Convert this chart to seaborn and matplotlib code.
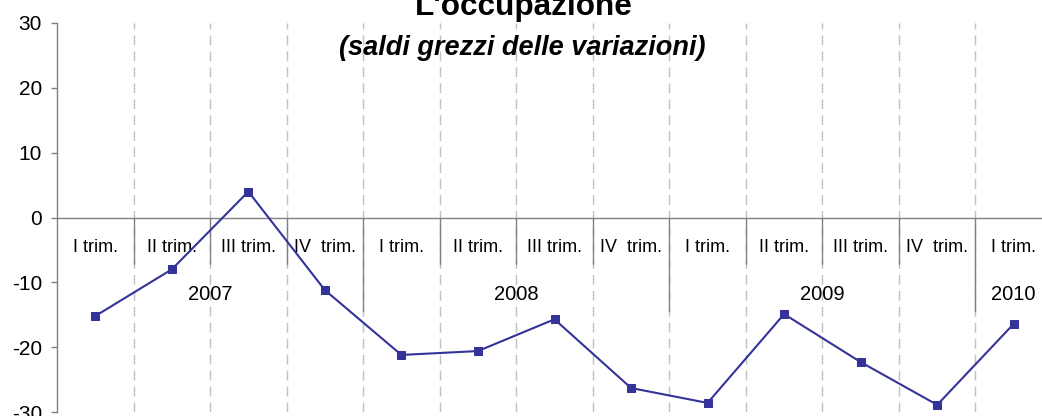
import numpy as np
import pandas as pd
import matplotlib
matplotlib.use("Agg")
import matplotlib.pyplot as plt
import seaborn as sns

# ── data ─────────────────────────────────────────────────────────────────────
quarters = ["I trim.", "II trim.", "III trim.", "IV  trim.",
            "I trim.", "II trim.", "III trim.", "IV  trim.",
            "I trim.", "II trim.", "III trim.", "IV  trim.",
            "I trim."]
years = ["2007", "2008", "2009", "2010"]
year_counts = [4, 4, 4, 1]
saldi = [-15.2, -8.0, 4.0, -11.2, -21.2, -20.6, -15.7,
         -26.3, -28.6, -14.9, -22.3, -28.9, -16.4]
y_ticks = [30, 20, 10, 0, -10, -20, -30]

df = pd.DataFrame({"idx": np.arange(len(saldi)), "saldo": saldi})

sns.set_style("white")
plt.rcParams["font.family"] = ["Liberation Sans", "DejaVu Sans"]
plt.rcParams["axes.unicode_minus"] = False
plt.rcParams["text.color"] = "black"
plt.rcParams["ytick.labelcolor"] = "black"

W, H = 1042, 416
fig = plt.figure(figsize=(W / 100, H / 100), dpi=100, facecolor="white")
ax = fig.add_axes([57 / W, 4 / H, (1052 - 57) / W, (412 - 23) / H])

GRID = "#c0c0c0"
AXC = "#808080"
LINE = "#333399"

n = len(saldi)
# dashed vertical gridlines between categories
for b in np.arange(0.5, n - 0.5, 1.0):
    ax.axvline(b, color=GRID, linestyle=(0, (7, 4.5)), linewidth=1.0, zorder=0)

# category axis at zero
ax.axhline(0, color=AXC, linewidth=1.0, zorder=1)

# separators below zero line
bounds = np.cumsum(year_counts)[:-1] - 0.5
for b in np.arange(0.5, n - 0.5, 1.0):
    low = -14.4 if b in bounds else -7.1
    ax.plot([b, b], [0, low], color=AXC, linewidth=1.0, zorder=1)

# quarter labels
for i, q in enumerate(quarters):
    ax.text(i, -4.6, q, ha="center", va="center", fontsize=13, color="black")

# year labels
start = 0
for yr, c in zip(years, year_counts):
    ax.text(start + (c - 1) / 2, -11.9, yr, ha="center", va="center",
            fontsize=14.5, color="black")
    start += c

sns.lineplot(data=df, x="idx", y="saldo", ax=ax, color=LINE, linewidth=1.5,
             marker="s", markersize=5.5, markeredgecolor=LINE, zorder=3)

ax.set_xlim(-0.5, n - 0.5)
ax.set_ylim(-30, 30)
ax.set_yticks(y_ticks)
ax.set_xticks([])
ax.set_xlabel("")
ax.set_ylabel("")
ax.tick_params(axis="y", labelsize=15, length=4.3, width=1, color=AXC,
               direction="out", left=True, pad=6.5, labelcolor="black")
for s in ["top", "right", "bottom"]:
    ax.spines[s].set_visible(False)
ax.spines["left"].set_color(AXC)
ax.spines["left"].set_linewidth(1.0)
ax.grid(False)

fig.text(524 / W, 1 - 15 / H, "L'occupazione", ha="center", va="baseline",
         fontsize=22.7, fontweight="bold", color="black")
fig.text(522 / W, 1 - 55 / H, "(saldi grezzi delle variazioni)", ha="center",
         va="baseline", fontsize=19.5, fontweight="bold", fontstyle="italic",
         color="black")

fig.savefig("out.png", dpi=100, facecolor="white")
